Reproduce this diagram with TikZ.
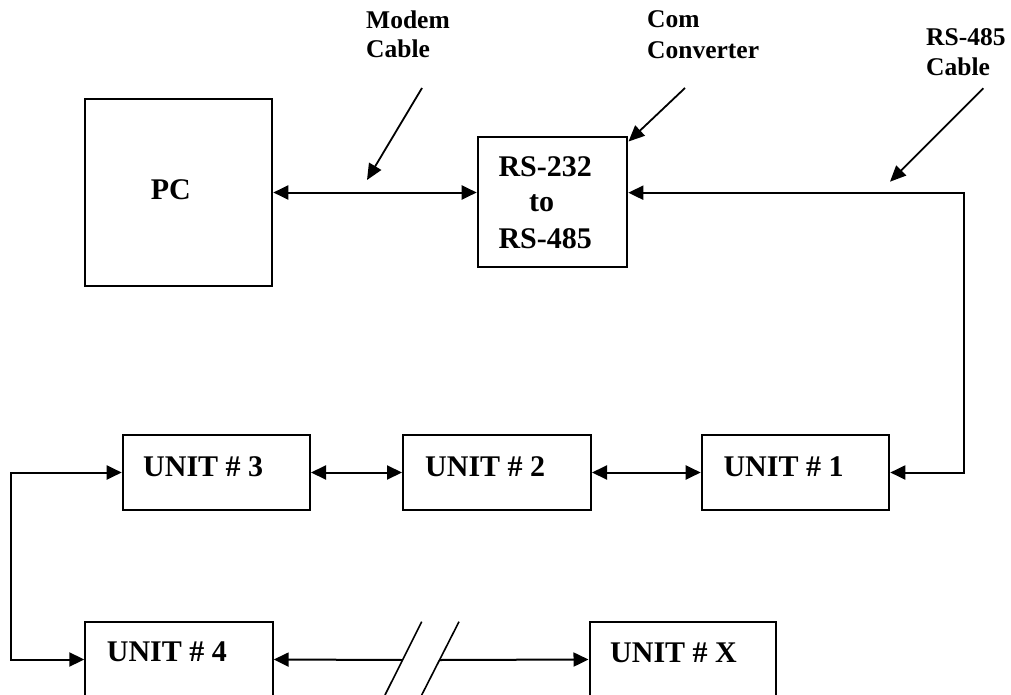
\documentclass[tikz,border=0pt]{standalone}
\usepackage{fontspec}
\setmainfont{Liberation Serif}
\usetikzlibrary{arrows.meta,calc}
\begin{document}
\begin{tikzpicture}[x=1pt,y=-1pt,
  blk/.style={draw, line width=2pt, inner sep=0pt},
  boxtext/.style={font=\fontsize{30}{36}\selectfont\bfseries, inner sep=0pt, anchor=base west},
  tag/.style={font=\fontsize{25.5}{30}\selectfont\bfseries, inner sep=0pt, anchor=base west},
  link/.style={line width=2pt, {Triangle[length=15pt,width=14pt]}-{Triangle[length=15pt,width=14pt]}},
  oneway/.style={line width=2pt, -{Triangle[length=15pt,width=14pt]}},
  pointer/.style={line width=1.8pt, -{Triangle[length=16pt,width=14pt]}},
  brk/.style={line width=1.6pt}
]
\useasboundingbox (0,0) rectangle (1011,695);
\clip (0,0) rectangle (1011,695);

% ---- boxes ----
\node[blk, minimum width=187.3pt, minimum height=186.4pt] (pc)   at (178.65,192.5) {};
\node[blk, minimum width=149.6pt, minimum height=130.6pt] (conv) at (552.5,202) {};
\node[blk, minimum width=187.3pt, minimum height=75pt]    (u3)   at (216.35,472.5) {};
\node[blk, minimum width=188pt,   minimum height=75pt]    (u2)   at (497,472.5) {};
\node[blk, minimum width=187.6pt, minimum height=75pt]    (u1)   at (795.5,472.5) {};
\node[blk, minimum width=187.4pt, minimum height=75pt]    (u4)   at (179,659.5) {};
\node[blk, minimum width=186pt,   minimum height=75pt]    (ux)   at (682.5,659.5) {};

% ---- box texts ----
\node[boxtext] (tpc) at (150.7,199) {PC};
\node[boxtext] (tcv1) at (498.3,176) {RS-232};
\node[boxtext] (tcv2) at (529,211.7) {to};
\node[boxtext] (tcv3) at (498.3,248.3) {RS-485};
\node[boxtext] (tu3) at (143,476) {UNIT \# 3};
\node[boxtext] (tu2) at (425,476) {UNIT \# 2};
\node[boxtext] (tu1) at (723.3,476) {UNIT \# 1};
\node[boxtext] (tu4) at (106.7,661.7) {UNIT \# 4};
\node[boxtext] (tux) at (610,662) {UNIT \# X};

% ---- cable labels ----
\node[tag] (lm1) at (366,28.3) {Modem};
\node[tag] (lm2) at (366,57.3) {Cable};
\node[tag] (lc1) at (647,27.5) {Com};
\node[tag] (lc2) at (647,58.3) {Converter};
\node[tag] (lr1) at (926,46) {RS-485};
\node[tag] (lr2) at (926,76) {Cable};

% ---- bus connections ----
\coordinate (rc) at (964,192.7);
\coordinate (lc) at (11,472.5);
\draw[link] (pc.east) -- (pc.east -| conv.west);
\draw[link] (conv.east |- rc) -- (rc) -- (rc |- u1.east) -- (u1.east);
\draw[link] (u3.east) -- (u2.west);
\draw[link] (u2.east) -- (u1.west);
\draw[link] (u3.west) -- (lc) |- (u4.west);

% broken run between unit 4 and unit X
\coordinate (gapL) at (402.5,660);
\coordinate (gapR) at (440,660);
\draw[oneway] (gapL) -- (u4.east);
\draw[oneway] (gapR) -- (ux.west);
\draw[brk] (421.7,621.7) -- (385,695);
\draw[brk] (459,621.7) -- (421.7,695);

% ---- pointers from the labels ----
\coordinate (pm0) at (422,88);   \coordinate (pm1) at (367,180);
\coordinate (pc0) at (685,88);   \coordinate (pc1) at (628.5,141.5);
\coordinate (pr0) at (983.3,88.3); \coordinate (pr1) at (890,181.7);
\draw[pointer] (pm0) -- (pm1);
\draw[pointer] (pc0) -- (pc1);
\draw[pointer] (pr0) -- (pr1);
\end{tikzpicture}
\end{document}
